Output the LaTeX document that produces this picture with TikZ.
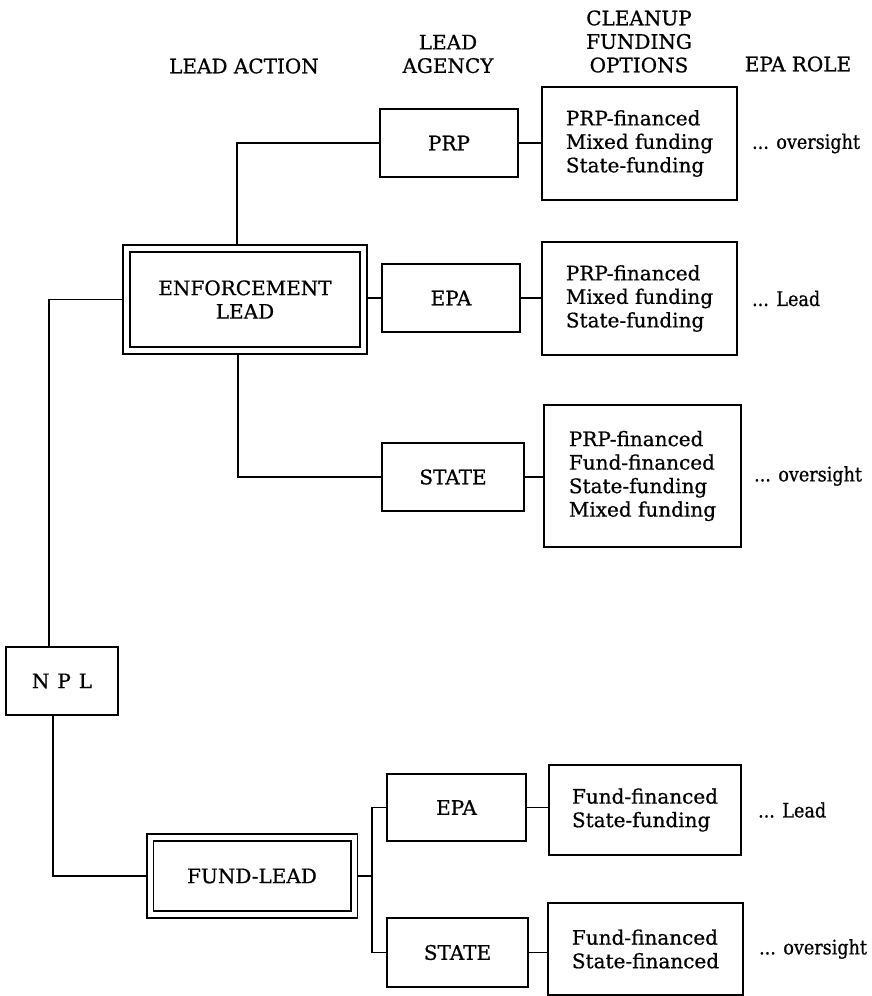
\documentclass[tikz,border=0pt]{standalone}
\usepackage{fontspec}
\setmainfont{DejaVu Serif}[FakeBold=0.7]
\newfontfamily\rolefont{DejaVu Serif}[FakeBold=0.7,FakeStretch=0.88]
\begin{document}
\begin{tikzpicture}[x=1pt,y=-1pt,
  every node/.style={font=\fontsize{20}{23.5}\selectfont, inner sep=0pt},
  wire/.style={line width=1.8pt},
  bx/.style={draw, line width=1.8pt, align=center},
  fbx/.style={draw, line width=1.8pt, align=left},
  dbx/.style={draw, line width=1.8pt, double, double distance=5pt, align=center, outer sep=4.3pt},
  hdr/.style={align=center},
  role/.style={anchor=west, font=\rolefont\fontsize{20}{23.5}\selectfont}
]
\useasboundingbox (0,0) rectangle (872,996);

% headers
\node[hdr] (hla) at (244,66) {LEAD ACTION};
\node[hdr] (hag) at (448,54) {LEAD\\AGENCY};
\node[hdr] (hcf) at (639,41.5) {CLEANUP\\FUNDING\\OPTIONS};
\node[hdr] (her) at (798,64) {EPA ROLE};

% lead action
\node[bx, minimum width=112pt, minimum height=68pt] (npl) at (62,681) {N\hspace{0.4em}P\hspace{0.4em}L};
\node[dbx, minimum width=237.5pt, minimum height=102.5pt] (enf) at (245,299.5) {ENFORCEMENT\\LEAD};
\node[dbx, minimum width=204pt, minimum height=77pt] (fund) at (252,876) {FUND-LEAD};

% lead agency
\node[bx, minimum width=138pt, minimum height=68pt] (prp) at (449,143) {PRP};
\node[bx, minimum width=138pt, minimum height=68pt] (epa1) at (451,298) {EPA};
\node[bx, minimum width=142pt, minimum height=68pt] (state1) at (453,477) {STATE};
\node[bx, minimum width=139pt, minimum height=67pt] (epa2) at (456.5,807.5) {EPA};
\node[bx, minimum width=141pt, minimum height=69pt] (state2) at (457.5,952.5) {STATE};

% funding options
\node[fbx, minimum width=195pt, minimum height=113pt] (f1) at (639.5,143.5) {PRP-financed\\Mixed funding\\State-funding};
\node[fbx, minimum width=195pt, minimum height=113pt] (f2) at (639.5,298.5) {PRP-financed\\Mixed funding\\State-funding};
\node[fbx, minimum width=197pt, minimum height=142pt] (f3) at (642.5,476) {PRP-financed\\Fund-financed\\State-funding\\Mixed funding};
\node[fbx, minimum width=192pt, minimum height=90pt] (f4) at (645,810) {Fund-financed\\State-funding};
\node[fbx, minimum width=195pt, minimum height=92pt] (f5) at (645.5,949) {Fund-financed\\State-financed};

% EPA role
\node[role] (r1) at ([xshift=14pt]f1.east) {... oversight};
\node[role] (r2) at ([xshift=14pt]f2.east) {... Lead};
\node[role] (r3) at ([xshift=12pt]f3.east) {... oversight};
\node[role] (r4) at ([xshift=16pt]f4.east) {... Lead};
\node[role] (r5) at ([xshift=15pt]f5.east) {... oversight};

% connectors
\draw[wire] ([xshift=-13pt]npl.north) |- (enf.west);
\draw[wire] ([xshift=-9pt]npl.south) |- (fund.west);
\draw[wire] ([xshift=-8pt]enf.north) |- (prp.west);
\draw[wire] ([xshift=-7pt]enf.south) |- (state1.west);
\draw[wire] (enf.east |- epa1.west) -- (epa1.west);
\draw[wire] (prp.east) -- (prp.east -| f1.west);
\draw[wire] (epa1.east) -- (epa1.east -| f2.west);
\draw[wire] (state1.east) -- (state1.east -| f3.west);
\draw[wire] (epa2.east) -- (epa2.east -| f4.west);
\draw[wire] (state2.east) -- (state2.east -| f5.west);
\coordinate (br) at (372,876);
\draw[wire] (fund.east) -- (br);
\draw[wire] (epa2.west) -| (br) |- (state2.west);
\end{tikzpicture}
\end{document}
